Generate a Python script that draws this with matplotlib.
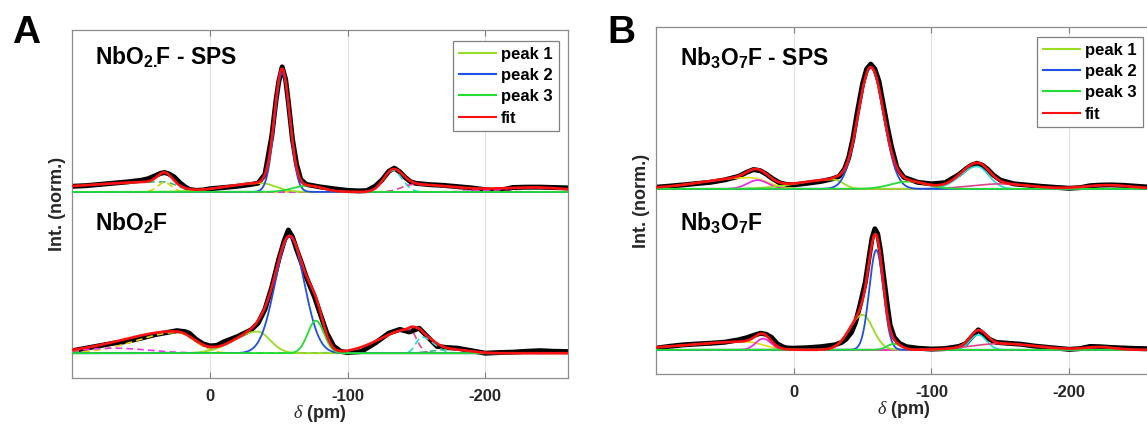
import numpy as np
import matplotlib
matplotlib.use("Agg")
import matplotlib.pyplot as plt
from matplotlib.lines import Line2D

plt.rcParams['font.family'] = ['Liberation Sans', 'DejaVu Sans']
plt.rcParams['mathtext.fontset'] = 'custom'
plt.rcParams['mathtext.rm'] = 'Liberation Sans:bold'
plt.rcParams['mathtext.bf'] = 'Liberation Sans:bold'
plt.rcParams['mathtext.it'] = 'Liberation Serif:italic'

# ---------------- data ----------------
# chemical shift (ppm) and normalised intensity of the measured spectra
A_SPS_X = [100, 90, 80, 70, 60, 50, 45, 40, 36, 33, 30, 26, 22, 18, 15, 10, 5, 0, -10, -20, -30, -35,
           -40, -45, -48, -50, -52.5, -55, -57, -60, -63, -66, -70, -75, -80, -90, -100, -108, -114,
           -120, -125, -130, -134, -138, -142, -146, -150, -160, -170, -180, -190, -200, -205, -212,
           -220, -230, -240, -250, -260]
A_SPS_Y = [0.045, 0.05, 0.06, 0.07, 0.08, 0.093, 0.105, 0.128, 0.148, 0.155, 0.145, 0.12, 0.075, 0.04,
           0.02, 0.012, 0.015, 0.025, 0.035, 0.045, 0.06, 0.07, 0.14, 0.45, 0.73, 0.88, 1.0, 0.9, 0.72,
           0.42, 0.22, 0.1, 0.06, 0.05, 0.04, 0.025, 0.012, 0.008, 0.01, 0.045, 0.095, 0.165, 0.19,
           0.16, 0.115, 0.08, 0.068, 0.058, 0.052, 0.042, 0.032, 0.018, 0.012, 0.015, 0.035, 0.038,
           0.038, 0.035, 0.032]

A_X = [100, 90, 80, 70, 60, 50, 40, 30, 24, 18, 15, 10, 5, 0, -5, -10, -20, -25, -30, -35, -40, -45,
       -50, -54, -57, -60, -63, -66, -70, -73, -76, -80, -85, -90, -95, -100, -110, -120, -130, -138,
       -145, -152, -158, -165, -172, -180, -190, -200, -210, -220, -230, -240, -250, -260]
A_Y = [0.02, 0.04, 0.06, 0.08, 0.095, 0.12, 0.148, 0.168, 0.18, 0.172, 0.16, 0.11, 0.075, 0.058, 0.062,
       0.09, 0.133, 0.16, 0.187, 0.24, 0.35, 0.53, 0.75, 0.9, 0.985, 0.93, 0.83, 0.74, 0.61, 0.53, 0.45,
       0.32, 0.16, 0.055, 0.015, 0.005, 0.013, 0.08, 0.16, 0.19, 0.17, 0.2, 0.133, 0.055, 0.045, 0.04,
       0.02, 0.0, 0.005, 0.008, 0.015, 0.02, 0.015, 0.013]

B_SPS_X = [100, 90, 80, 70, 60, 50, 40, 34, 29, 24, 20, 15, 10, 5, 0, -10, -20, -28, -33, -37, -40,
           -43, -46, -50, -53, -56, -59, -62, -65, -68, -71, -75, -80, -90, -100, -110, -120, -125,
           -129, -133, -137, -141, -145, -150, -160, -170, -180, -190, -200, -208, -215, -222, -230,
           -240, -250, -260]
B_SPS_Y = [0.013, 0.022, 0.032, 0.043, 0.053, 0.072, 0.1, 0.133, 0.155, 0.145, 0.12, 0.08, 0.048, 0.035,
           0.032, 0.045, 0.06, 0.08, 0.1, 0.16, 0.25, 0.4, 0.6, 0.84, 0.96, 1.0, 0.96, 0.86, 0.68, 0.5,
           0.34, 0.17, 0.093, 0.053, 0.04, 0.05, 0.115, 0.16, 0.19, 0.205, 0.19, 0.155, 0.11, 0.07,
           0.04, 0.03, 0.02, 0.012, 0.005, 0.01, 0.025, 0.03, 0.032, 0.028, 0.02, 0.013]

B_X = [100, 90, 80, 70, 60, 50, 40, 34, 30, 24, 20, 16, 12, 8, 5, 0, -10, -20, -30, -35, -38, -42, -45,
       -48, -52, -55, -57, -59, -61, -63, -65, -68, -70, -73, -77, -82, -90, -100, -110, -120, -125,
       -129, -134, -138, -142, -147, -155, -165, -175, -190, -200, -208, -215, -222, -230, -245, -260]
B_Y = [0.013, 0.028, 0.04, 0.047, 0.053, 0.061, 0.08, 0.097, 0.112, 0.133, 0.125, 0.1, 0.05, 0.025, 0.015,
       0.013, 0.017, 0.025, 0.04, 0.06, 0.085, 0.14, 0.22, 0.35, 0.54, 0.76, 0.9, 0.97, 0.93, 0.8, 0.62,
       0.36, 0.2, 0.1, 0.05, 0.025, 0.013, 0.006, 0.01, 0.027, 0.05, 0.1, 0.16, 0.125, 0.085, 0.06,
       0.053, 0.045, 0.03, 0.014, 0.004, 0.01, 0.027, 0.025, 0.019, 0.012, 0.008]

# fitted components: (centre ppm, FWHM on high-ppm side, FWHM on low-ppm side, height)
A_SPS_PEAKS = [(-37, 60, 25, 0.07), (-52.5, 13, 13, 0.95), (-71, 25, 25, 0.05)]
A_SPS_EXTRA = [(34, 150, 24, 0.08), (33, 12, 12, 0.075), (-133, 16, 16, 0.17),
               (-148, 20, 70, 0.06), (-235, 60, 60, 0.035)]
A_PEAKS = [(-34.4, 40, 22, 0.173), (-58, 25, 25, 0.93), (-77, 14, 14, 0.26)]
A_EXTRA = [(24, 70, 30, 0.165), (70, 60, 60, 0.04), (-145, 50, 12, 0.19),
           (-154, 10, 20, 0.13), (-175, 30, 30, 0.03)]
B_SPS_PEAKS = [(-29, 60, 16, 0.075), (-56, 22, 22, 0.97), (-83.5, 30, 30, 0.059)]
B_SPS_EXTRA = [(32, 80, 30, 0.09), (26, 18, 18, 0.07), (-133, 28, 20, 0.18),
               (-150, 50, 50, 0.04), (-228, 40, 40, 0.03)]
B_PEAKS = [(-50, 22, 18, 0.28), (-60, 12, 12, 0.8), (-73, 12, 12, 0.048)]
B_EXTRA = [(35, 100, 30, 0.065), (22, 13, 13, 0.09), (-134, 14, 14, 0.12),
           (-150, 50, 60, 0.05), (-222, 25, 25, 0.022)]

LEGEND_LABELS = ['peak 1', 'peak 2', 'peak 3', 'fit']
TICKS = [0, -100, -200]
TICK_LABELS = ['0', '-100', '-200']
TITLES_A = [r'NbO$_{2.\!\!}$F - SPS', r'NbO$_{2}$F']
TITLES_B = [r'Nb$_{3}$O$_{7}$F - SPS', r'Nb$_{3}$O$_{7}$F']

# ---------------- styles ----------------
PEAK_COLORS = ['#99DD22', '#1F4FE6', '#22DD33']
FIT_COLOR = '#FF1111'
EXTRA_COLORS_A = ['#33BB77', '#E6D200', '#22DDDD', '#DD4499', '#EE33EE']
EXTRA_COLORS_A2 = ['#E6D200', '#EE33EE', '#DD4499', '#22DDDD', '#33BB77']
EXTRA_COLORS_B = ['#E6DC10', '#EE22EE', '#22DDDD', '#DD4488', '#EE33CC']
OFFSET = 1.29

W, H = 1147, 424
fig = plt.figure(figsize=(W / 100, H / 100), dpi=100)


def px_axes(l, t, r, b):
    return fig.add_axes([l / W, 1 - b / H, (r - l) / W, (b - t) / H])


def split_gauss(x, c, wh, wl, h):
    sig = np.where(x >= c, wh, wl) / 2.3548
    return h * np.exp(-0.5 * ((x - c) / sig) ** 2)


xs = np.linspace(100, -260, 1801)


def draw_spectrum(ax, dx, dy, peaks, extra, extra_colors, extra_ls, off):
    ax.plot(dx, np.array(dy) + off, color='black', lw=3.6, solid_joinstyle='round',
            solid_capstyle='round', zorder=2)
    total = np.zeros_like(xs)
    for p, col in zip(extra, extra_colors):
        y = split_gauss(xs, *p)
        total += y
        ax.plot(xs, y + off, color=col, ls=extra_ls, lw=1.2, zorder=3)
    for p, col in zip(peaks, PEAK_COLORS):
        y = split_gauss(xs, *p)
        total += y
        ax.plot(xs, y + off, color=col, lw=1.3, zorder=3)
    ax.plot(xs, total + off, color=FIT_COLOR, lw=1.9, zorder=4)


def style_axes(ax, leg_anchor):
    ax.set_xlim(100, -260)
    ax.set_ylim(-0.196, 2.585)
    ax.set_xticks(TICKS)
    ax.set_xticklabels(TICK_LABELS, fontweight='bold', fontsize=12, color='#262626')
    ax.set_yticks([])
    ax.tick_params(axis='x', direction='in', top=True, length=4, width=0.8,
                   color='#808080', pad=8)
    ax.grid(axis='x', color='#e2e2e2', lw=0.8)
    ax.set_axisbelow(True)
    for s in ax.spines.values():
        s.set_color('#8c8c8c')
        s.set_linewidth(0.9)
    handles = [Line2D([], [], color=c, lw=1.5) for c in PEAK_COLORS + [FIT_COLOR]]
    leg = ax.legend(handles, LEGEND_LABELS, loc='upper left', bbox_to_anchor=leg_anchor,
                    borderaxespad=0, prop={'weight': 'bold', 'size': 12}, handlelength=2.25,
                    handletextpad=0.3, labelspacing=0.38, borderpad=0.35, frameon=True,
                    fancybox=False, framealpha=1, edgecolor='#808080')
    leg.get_frame().set_linewidth(0.9)


axA = px_axes(72.3, 30, 567.7, 377.7)
draw_spectrum(axA, A_SPS_X, A_SPS_Y, A_SPS_PEAKS, A_SPS_EXTRA, EXTRA_COLORS_A, (0, (4, 2.5)), OFFSET)
draw_spectrum(axA, A_X, A_Y, A_PEAKS, A_EXTRA, EXTRA_COLORS_A2, (0, (4, 2.5)), 0)
style_axes(axA, (0.768, 0.969))

axB = px_axes(655.7, 27.3, 1152, 374.3)
draw_spectrum(axB, B_SPS_X, B_SPS_Y, B_SPS_PEAKS, B_SPS_EXTRA, EXTRA_COLORS_B, '-', OFFSET)
draw_spectrum(axB, B_X, B_Y, B_PEAKS, B_EXTRA, EXTRA_COLORS_B, '-', 0)
style_axes(axB, (0.7677, 0.973))

# panel letters
fig.text(12 / W, 1 - 43 / H, 'A', fontsize=28, fontweight='bold', va='baseline', ha='left')
fig.text(607 / W, 1 - 43 / H, 'B', fontsize=28, fontweight='bold', va='baseline', ha='left')

# titles inside panels
fig.text(95 / W, 1 - 65 / H, TITLES_A[0], fontsize=16.5, fontweight='bold', va='baseline')
fig.text(95 / W, 1 - 231 / H, TITLES_A[1], fontsize=16.5, fontweight='bold', va='baseline')
fig.text(680 / W, 1 - 66 / H, TITLES_B[0], fontsize=16.5, fontweight='bold', va='baseline')
fig.text(680 / W, 1 - 231 / H, TITLES_B[1], fontsize=16.5, fontweight='bold', va='baseline')

# axis labels
for x, y in [(58, 204), (641, 201)]:
    fig.text(x / W, 1 - y / H, 'Int. (norm.)', rotation=90, ha='center', va='center',
             fontsize=13, fontweight='bold', color='#262626')
for x, y in [(320, 413), (904, 410)]:
    fig.text(x / W, 1 - y / H, r'$\delta$ (pm)', ha='center', va='center',
             fontsize=13, fontweight='bold', color='#262626')

fig.savefig('out.png', dpi=100)
